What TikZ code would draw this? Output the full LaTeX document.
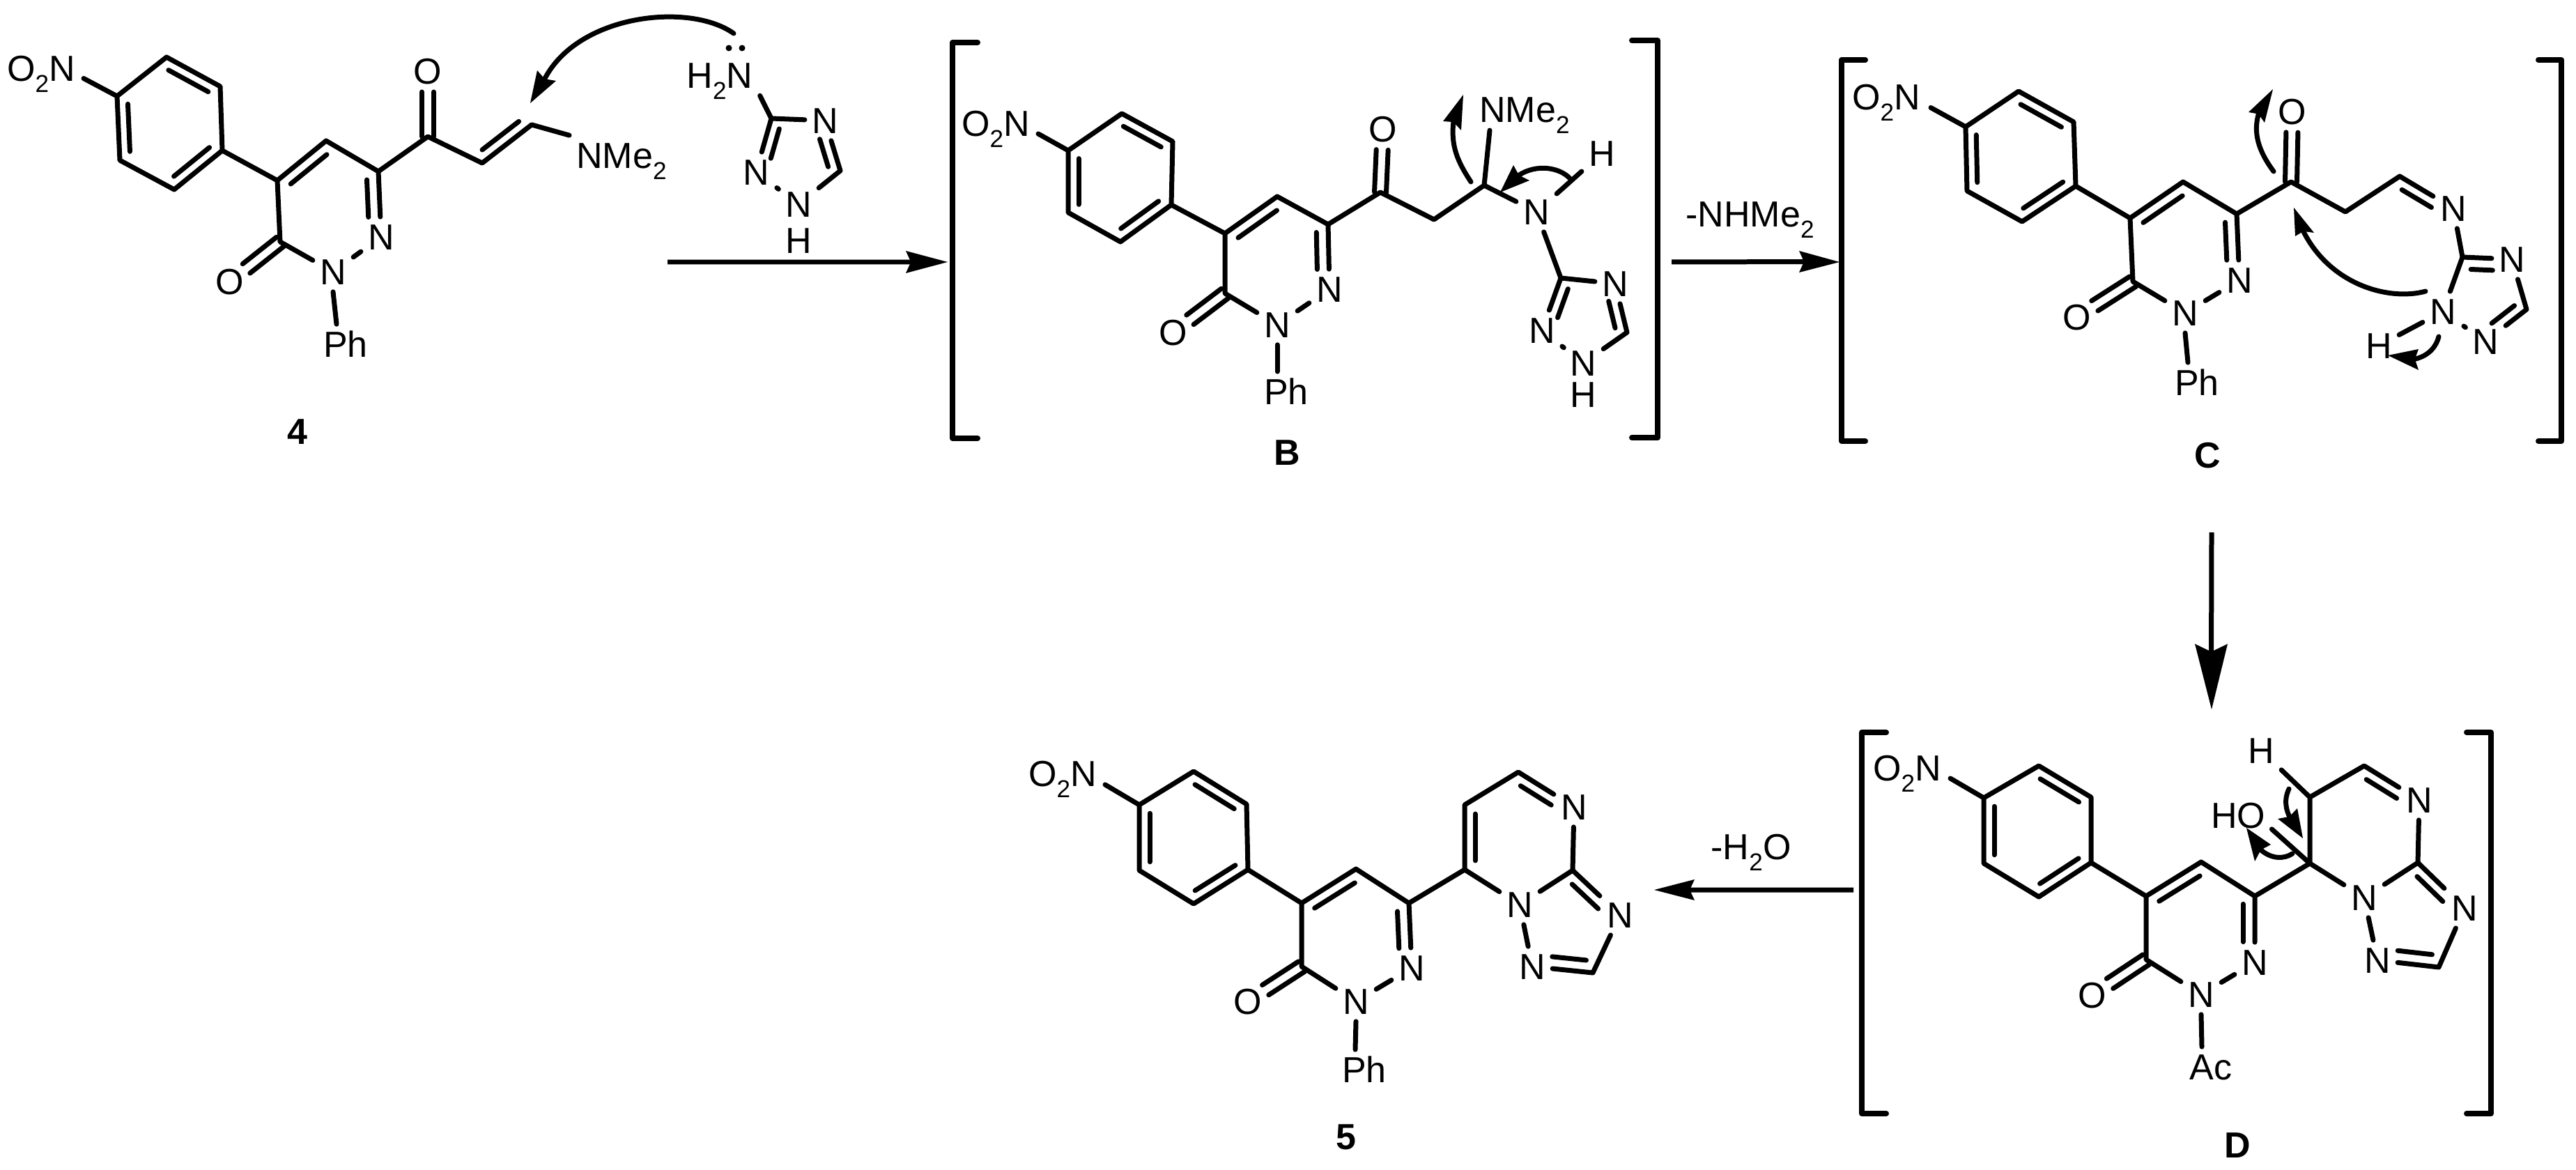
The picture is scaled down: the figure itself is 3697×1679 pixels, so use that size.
\documentclass[tikz,border=0pt]{standalone}
\usepackage{fontspec}
\setmainfont{Liberation Sans}
\usetikzlibrary{calc}
\newcommand\subtwo{\raisebox{-0.3em}{\fontsize{20}{20}\selectfont 2}}
\tikzset{
  atom/.style={inner sep=.2cm,text height=.74cm,text depth=0pt,font=\fontsize{29.6}{32}\selectfont},
  cpd/.style={atom,font=\fontsize{29.6}{32}\selectfont\bfseries},
  bondline/.style={line width=.14cm,line cap=round,line join=round},
  curveline/.style={line width=.14cm,line cap=round},
  rxnline/.style={line width=.14cm},
  brk/.style={line width=.16cm,line join=round,line cap=round}
}
% inner line of a double bond: a, b, offset, fraction at a, fraction at b
\newcommand\inn[5]{\draw[bondline] ($(#1.center)!#4!(#2.center)!#3!90:(#2.center)$) -- ($(#2.center)!#5!(#1.center)!#3!-90:(#1.center)$);}
% C=O drawn as a symmetric pair
\newcommand\cdo[2]{%
  \draw[bondline,shorten >=.6cm] ($(#1.center)!.17cm!90:(#2.center)$) -- ($(#2.center)!.17cm!-90:(#1.center)$);
  \draw[bondline,shorten >=.6cm] ($(#1.center)!.17cm!-90:(#2.center)$) -- ($(#2.center)!.17cm!90:(#1.center)$);}
% benzene ring
\newcommand\benz[1]{%
  \draw[bondline] (#11)--(#12)--(#13)--(#14)--(#15)--(#16)--cycle;
  \inn{#12}{#13}{-.3cm}{.13}{.13}\inn{#14}{#15}{-.3cm}{.13}{.13}\inn{#16}{#11}{-.3cm}{.13}{.13}}
% pyridazinone ring + link to benzene + substituent on N
\newcommand\pyr[1]{%
  \draw[bondline] (#14)--(#1c4)--(#1ch)--(#1c3)--(#1n2);
  \draw[bondline] (#1n2)--(#1n1);
  \draw[bondline] (#1n1)--(#1c6)--(#1c4);
  \inn{#1c4}{#1ch}{-.32cm}{.13}{.13}
  \inn{#1c3}{#1n2}{-.34cm}{.12}{.31}
  \cdo{#1c6}{#1o}
  \draw[bondline] (#1n1.south) -- ($(#1r.north)+(-13,0)$);}
% curved arrow: name, start, ctrl1, ctrl2, tip, wing1, wing2
\newcommand\curly[7]{%
  \coordinate (#1s) at (#2); \coordinate (#1t) at (#5); \coordinate (#1a) at (#6); \coordinate (#1b) at (#7);
  \coordinate (#1n) at ($(#1a)!.5!(#1b)!.12!(#1t)$);
  \draw[curveline] (#1s) .. controls (#3) and (#4) .. (#1n);
  \fill (#1t) -- (#1a) -- (#1n) -- (#1b) -- cycle;}
% straight arrow: name, start, tip, wing1, wing2
\newcommand\rxn[5]{%
  \coordinate (#1s) at (#2); \coordinate (#1t) at (#3); \coordinate (#1a) at (#4); \coordinate (#1b) at (#5);
  \coordinate (#1n) at ($(#1a)!.5!(#1b)!.12!(#1t)$);
  \draw[rxnline] (#1s) -- (#1n);
  \fill (#1t) -- (#1a) -- (#1n) -- (#1b) -- cycle;}
\begin{document}
\begin{tikzpicture}[x=.02cm,y=-.02cm]
\useasboundingbox (0,0) rectangle (3697,1679);

%%% compound 4
\coordinate (a1) at (168,138);\coordinate (a2) at (239,82);\coordinate (a3) at (316,124);
\coordinate (a4) at (319,216);\coordinate (a5) at (250,272);\coordinate (a6) at (172,230);
\coordinate (ac4) at (398,259);\coordinate (ach) at (468,202);\coordinate (ac3) at (543,246);\coordinate (ac6) at (402,347);
\node[atom] (an2) at (547,340) {N};
\node[atom] (an1) at (478,390) {N};
\node[atom] (ao) at (330,404) {O};
\node[atom] (ar) at (496,494) {Ph};
\node[atom,anchor=east] (ano) at (118,98.5) {O\subtwo N};
\draw[bondline] ($(ano.east)+(2,14)$) -- (a1);
\benz{a}\pyr{a}
\coordinate (ak) at (614,196);\coordinate (am) at (692,234);\coordinate (al) at (763,179);
\node[atom] (ako) at (614,102) {O};
\node[atom,anchor=west] (ame) at (817,223) {NMe\subtwo};
\draw[bondline] (ac3)--(ak)--(am)--(al)--(ame.north west);
\cdo{ak}{ako}
\inn{am}{al}{.3cm}{.13}{.13}
\node[cpd] (lab4) at (427,619) {4};
% aminotriazole
\coordinate (tc) at (1107,170);\coordinate (td) at (1206,245);
\node[atom] (th2) at (1033,108.5) {H\subtwo N};
\node[atom] (tn1) at (1184,173) {N};
\node[atom] (tn2) at (1085,247) {N};
\node[atom] (tn3) at (1146,293) {N};
\node[atom] (th) at (1146,345) {H};
\draw[bondline] (th2.south east)--(tc)--(tn1);
\draw[bondline] (tn1)--(td)--(tn3);
\draw[bondline] (tc)--(tn2);
\draw[bondline] ($(tn2)!.49!(tn3)$)--($(tn2)!.53!(tn3)$);
\inn{tc}{tn2}{.3cm}{.14}{.31}
\inn{td}{tn1}{.3cm}{.14}{.31}
\fill (1046,69) circle (4.5) (1065,69) circle (4.5);
\curly{ca}{1053,48}{990,3}{830,20}{761,148}{771,101}{798,116}
\rxn{ra}{958,376}{1360,376}{1300,360}{1300,392}

%%% intermediate B
\draw[brk] (1403,61)--(1367,61)--(1367,629)--(1403,629);
\draw[brk] (2342,58)--(2379,58)--(2379,628)--(2342,628);
\coordinate (b1) at (1533,216);\coordinate (b2) at (1610,163);\coordinate (b3) at (1683,203);
\coordinate (b4) at (1681,294);\coordinate (b5) at (1608,347);\coordinate (b6) at (1533,305);
\coordinate (bc4) at (1758,335);\coordinate (bch) at (1833,282);\coordinate (bc3) at (1906,322);\coordinate (bc6) at (1758,421);
\node[atom] (bn2) at (1908,415) {N};
\node[atom] (bn1) at (1833,466) {N};
\node[atom] (bo) at (1684,477) {O};
\node[atom] (br) at (1846,562) {Ph};
\node[atom,anchor=east] (bno) at (1488,177) {O\subtwo N};
\draw[bondline] ($(bno.east)+(2,15)$) -- (b1);
\benz{b}\pyr{b}
\coordinate (bk) at (1981,276);\coordinate (bm) at (2058,315);\coordinate (bq) at (2130,266);\coordinate (bw) at (2138,187);
\node[atom] (bko) at (1985,185) {O};
\node[atom,anchor=west] (bme) at (2113,157) {NMe\subtwo};
\node[atom] (bnh) at (2205,304) {N};
\node[atom] (bh) at (2299,220) {H};
\draw[bondline] (bc3)--(bk)--(bm)--(bq)--(bnh);
\draw[bondline] (bq)--(bw);
\draw[bondline] (bnh)--(bh);
\cdo{bk}{bko}
\coordinate (btc) at (2240,399);\coordinate (btd) at (2335,477);
\node[atom] (btn1) at (2318,407) {N};
\node[atom] (btn2) at (2213,474) {N};
\node[atom] (btn3) at (2272,521) {N};
\node[atom] (bth) at (2272,566) {H};
\draw[bondline] (bnh)--(btc)--(btn1);
\draw[bondline] (btn1)--(btd)--(btn3);
\draw[bondline] (btc)--(btn2);
\draw[bondline] ($(btn2)!.49!(btn3)$)--($(btn2)!.53!(btn3)$);
\inn{btc}{btn2}{.3cm}{.14}{.31}
\inn{btd}{btn1}{.3cm}{.14}{.31}
\curly{cb}{2111,261}{2092,232}{2082,210}{2100,136}{2071,174}{2097,187}
\curly{cc}{2253,256}{2238,240}{2205,235}{2153,276}{2172,237}{2195,259}
\node[cpd] (labB) at (1847,649) {B};
\node[atom,anchor=west] (lnh) at (2409,307) {-NHMe\subtwo};
\rxn{rb}{2399,376}{2640,376}{2582,360}{2582,391}

%%% intermediate C
\draw[brk] (2677,86)--(2643,86)--(2643,633)--(2677,633);
\draw[brk] (3643,86)--(3676,86)--(3676,633)--(3643,633);
\coordinate (c1) at (2821,182);\coordinate (c2) at (2897,131);\coordinate (c3) at (2976,175);
\coordinate (c4) at (2979,267);\coordinate (c5) at (2902,318);\coordinate (c6) at (2823,274);
\coordinate (cc4) at (3057,313);\coordinate (cch) at (3133,261);\coordinate (cc3) at (3210,307);\coordinate (cc6) at (3061,404);
\node[atom] (cn2) at (3214,402) {N};
\node[atom] (cn1) at (3136,449) {N};
\node[atom] (co) at (2981,455) {O};
\node[atom] (cr) at (3153,549) {Ph};
\node[atom,anchor=east] (cno) at (2766,139.5) {O\subtwo N};
\draw[bondline] ($(cno.east)+(5,15)$) -- (c1);
\benz{c}\pyr{c}
\coordinate (ck) at (3288,261);\coordinate (cm) at (3366,304);\coordinate (cq) at (3444,253);
\node[atom] (cko) at (3290,160) {O};
\node[atom] (cnq) at (3521,299) {N};
\draw[bondline] (cc3)--(ck)--(cm)--(cq)--(cnq);
\cdo{ck}{cko}
\inn{cq}{cnq}{-.3cm}{.14}{.31}
\coordinate (ctc) at (3534,369);\coordinate (ctd) at (3626,444);
\node[atom] (ctn1) at (3605,372) {N};
\node[atom] (ctn2) at (3506,447) {N};
\node[atom] (ctn3) at (3567,490) {N};
\node[atom] (cth) at (3414,496) {H};
\draw[bondline] (cnq)--(ctc)--(ctn1);
\draw[bondline] (ctn1)--(ctd)--(ctn3);
\draw[bondline] (ctc)--(ctn2);
\draw[bondline] (ctn2)--(cth);
\draw[bondline] ($(ctn2)!.49!(ctn3)$)--($(ctn2)!.53!(ctn3)$);
\inn{ctc}{ctn1}{-.34cm}{.18}{.38}
\inn{ctd}{ctn3}{-.3cm}{.14}{.31}
\curly{cd}{3263,246}{3240,215}{3234,190}{3262,128}{3227,161}{3250,176}
\curly{ce}{3481,418}{3430,432}{3345,410}{3292,298}{3294,339}{3321,334}
\curly{cf}{3500,483}{3497,495}{3488,510}{3427,510}{3471,501}{3471,531}
\node[cpd] (labC) at (3168,653) {C};
\rxn{rc}{3174,764}{3174,1018}{3150,924}{3197,924}

%%% intermediate D
\draw[brk] (2707,1051)--(2672,1051)--(2672,1598)--(2707,1598);
\draw[brk] (3540,1051)--(3575,1051)--(3575,1598)--(3540,1598);
\coordinate (d1) at (2847,1145);\coordinate (d2) at (2926,1099);\coordinate (d3) at (3001,1144);
\coordinate (d4) at (3001,1238);\coordinate (d5) at (2926,1287);\coordinate (d6) at (2847,1239);
\coordinate (dc4) at (3080,1286);\coordinate (dch) at (3159,1237);\coordinate (dc3) at (3236,1286);\coordinate (dc6) at (3080,1377);
\node[atom] (dn2) at (3236,1381) {N};
\node[atom] (dn1) at (3159,1427) {N};
\node[atom] (do) at (3003,1428) {O};
\node[atom] (dr) at (3173,1531) {Ac};
\node[atom,anchor=east] (dno) at (2796,1102) {O\subtwo N};
\draw[bondline] ($(dno.east)+(3,15)$) -- (d1);
\benz{d}\pyr{d}
\coordinate (dq) at (3315,1239);\coordinate (dm) at (3315,1144);\coordinate (dk) at (3393,1099);\coordinate (dx) at (3470,1238);\coordinate (dy) at (3500,1388);
\node[atom] (dna) at (3472,1148) {N};
\node[atom] (dnb) at (3393,1288) {N};
\node[atom] (dnc) at (3537,1303) {N};
\node[atom] (dnd) at (3412,1378) {N};
\node[atom] (dh) at (3245,1077) {H};
\node[atom] (dho) at (3212,1170) {HO};
\draw[bondline] (dc3)--(dq)--(dm)--(dk)--(dna);
\draw[bondline] (dna)--(dx)--(dnb);
\draw[bondline] (dnb)--(dq);
\draw[bondline] (dx)--(dnc);
\draw[bondline] (dnc)--(dy)--(dnd);
\draw[bondline] (dnd)--(dnb);
\draw[bondline] (dm)--(dh);
\draw[bondline] (dq)--($(dho.south east)+(-1,-9)$);
\inn{dk}{dna}{-.3cm}{.14}{.31}
\inn{dx}{dnc}{-.3cm}{.14}{.31}
\inn{dy}{dnd}{-.34cm}{.13}{.31}
\curly{cg}{3285,1132}{3280,1143}{3278,1155}{3305,1203}{3269,1175}{3297,1160}
\curly{ch}{3290,1225}{3278,1233}{3260,1233}{3224,1188}{3236,1236}{3259,1212}
\node[cpd] (labD) at (3211,1643) {D};
\rxn{rd}{2660,1277}{2374,1277}{2432,1262}{2432,1292}
\node[atom] (lwa) at (2513,1215) {-H\subtwo O};

%%% product 5
\coordinate (e1) at (1635,1155);\coordinate (e2) at (1713,1107);\coordinate (e3) at (1789,1154);
\coordinate (e4) at (1791,1248);\coordinate (e5) at (1713,1297);\coordinate (e6) at (1635,1249);
\coordinate (ec4) at (1868,1296);\coordinate (ech) at (1946,1247);\coordinate (ec3) at (2022,1296);\coordinate (ec6) at (1868,1387);
\node[atom] (en2) at (2026,1389) {N};
\node[atom] (en1) at (1946,1437) {N};
\node[atom] (eo) at (1791,1437) {O};
\node[atom] (er) at (1958,1535) {Ph};
\node[atom,anchor=east] (eno) at (1584,1110) {O\subtwo N};
\draw[bondline] ($(eno.east)+(2,16)$) -- (e1);
\benz{e}\pyr{e}
\coordinate (eq) at (2102,1248);\coordinate (em) at (2102,1155);\coordinate (ek) at (2179,1108);\coordinate (ex) at (2257,1249);\coordinate (ey) at (2286,1396);
\node[atom] (ena) at (2259,1158) {N};
\node[atom] (enb) at (2181,1298) {N};
\node[atom] (enc) at (2325,1313) {N};
\node[atom] (end) at (2199,1387) {N};
\draw[bondline] (ec3)--(eq)--(em)--(ek)--(ena);
\draw[bondline] (ena)--(ex)--(enb);
\draw[bondline] (enb)--(eq);
\draw[bondline] (ex)--(enc);
\draw[bondline] (enc)--(ey)--(end);
\draw[bondline] (end)--(enb);
\inn{eq}{em}{-.3cm}{.14}{.14}
\inn{ek}{ena}{-.3cm}{.14}{.31}
\inn{ex}{enc}{-.3cm}{.14}{.31}
\inn{ey}{end}{-.34cm}{.13}{.31}
\node[cpd] (lab5) at (1932,1631) {5};
\end{tikzpicture}
\end{document}
